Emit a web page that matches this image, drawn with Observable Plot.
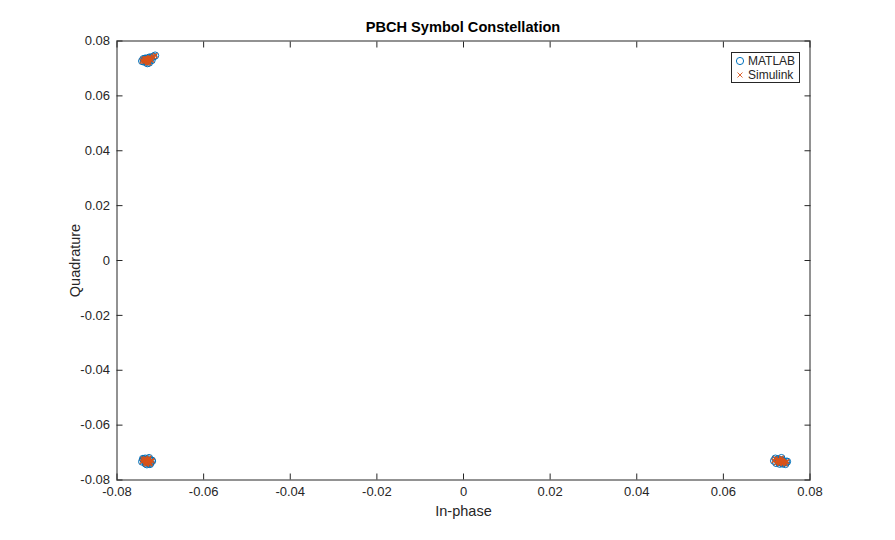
<!DOCTYPE html>
<html>
<head>
<meta charset="utf-8">
<script src="https://cdn.jsdelivr.net/npm/d3@7"></script>
<script src="https://cdn.jsdelivr.net/npm/@observablehq/plot@0.6"></script>
<style>
  body { margin: 0; background: #fff; }
  #wrap { position: relative; width: 895px; height: 540px; font-family: "Liberation Sans", Arial, Helvetica, sans-serif; color: #262626; }
  #title { position: absolute; top: 19px; left: 116px; width: 694px; text-align: center; font-weight: bold; font-size: 14.6px; color: #000; }
  #legend { position: absolute; left: 731px; top: 52px; width: 69px; height: 31px; background: #fff; border: 1px solid #262626; font-size: 12px; box-sizing: border-box; }
  #legend .row { position: absolute; left: 3px; height: 14px; line-height: 14px; display: flex; align-items: center; white-space: nowrap; }
  #legend svg { margin-right: 3px; }
</style>
</head>
<body>
<div id="wrap">
  <div id="chart"></div>
  <div id="title">PBCH Symbol Constellation</div>
  <div id="legend"></div>
</div>
<script>
// In-phase / quadrature values per cluster (same symbols for MATLAB and Simulink)
const inphaseA = [-0.0734, -0.0727, -0.0738, -0.0722, -0.0731, -0.0742, -0.0726, -0.0735, -0.0720, -0.0730, -0.0739, -0.0725, -0.0716, -0.0712, -0.0733, -0.0729, -0.0732, -0.0728, -0.0734, -0.0726, -0.0730, -0.0733, -0.0727, -0.0730];
const quadA    = [ 0.0729,  0.0734,  0.0725,  0.0739,  0.0731,  0.0727,  0.0721,  0.0736,  0.0730,  0.0719,  0.0734,  0.0740,  0.0743,  0.0747,  0.0726,  0.0736,  0.0731,  0.0728,  0.0733,  0.0730,  0.0727,  0.0735,  0.0734,  0.0730];
const inphaseB = [-0.0736, -0.0728, -0.0740, -0.0723, -0.0733, -0.0742, -0.0726, -0.0734, -0.0720, -0.0730, -0.0739, -0.0724, -0.0735, -0.0719, -0.0731, -0.0727, -0.0730, -0.0733, -0.0728, -0.0734, -0.0731, -0.0727, -0.0735, -0.0730];
const quadB    = [-0.0727, -0.0734, -0.0723, -0.0738, -0.0730, -0.0733, -0.0720, -0.0740, -0.0729, -0.0736, -0.0726, -0.0742, -0.0722, -0.0731, -0.0743, -0.0725, -0.0731, -0.0728, -0.0734, -0.0730, -0.0727, -0.0735, -0.0733, -0.0730];
const inphaseC = [ 0.0731,  0.0725,  0.0740,  0.0720,  0.0737,  0.0728,  0.0745,  0.0722,  0.0734,  0.0717,  0.0743,  0.0727,  0.0738,  0.0747,  0.0730,  0.0726,  0.0733,  0.0728,  0.0735,  0.0731,  0.0734,  0.0729,  0.0737,  0.0727];
const quadC    = [-0.0731, -0.0726, -0.0736, -0.0722, -0.0740, -0.0728, -0.0734, -0.0738, -0.0720, -0.0730, -0.0742, -0.0725, -0.0735, -0.0733, -0.0741, -0.0727, -0.0731, -0.0734, -0.0728, -0.0733, -0.0730, -0.0735, -0.0731, -0.0728];
const inphaseD = [ 0.0729,  0.0734,  0.0725,  0.0738,  0.0731,  0.0723,  0.0736,  0.0728,  0.0741,  0.0732];
const quadD    = [ 0.0732,  0.0726,  0.0735,  0.0729,  0.0738,  0.0730,  0.0724,  0.0736,  0.0731,  0.0727];
const tickValues = [-0.08, -0.06, -0.04, -0.02, 0, 0.02, 0.04, 0.06, 0.08];
const seriesNames = ["MATLAB", "Simulink"];
const seriesColors = ["#0072BD", "#D95319"];

const points = [];
[[inphaseA, quadA], [inphaseB, quadB], [inphaseC, quadC], [inphaseD, quadD]].forEach(([I, Q]) => {
  I.forEach((v, i) => points.push({ i: v, q: Q[i] }));
});

const fmt = d => (Math.abs(d) < 1e-12 ? "0" : d.toFixed(2));

const chart = Plot.plot({
  width: 895,
  height: 540,
  marginLeft: 116.5,
  marginRight: 85.5,
  marginTop: 40.5,
  marginBottom: 60.5,
  style: { fontFamily: "'Liberation Sans', Arial, Helvetica, sans-serif", fontSize: "13px", color: "#262626", background: "#fff" },
  x: { domain: [-0.08, 0.08] },
  y: { domain: [-0.08, 0.08] },
  marks: [
    Plot.dot(points, { x: "i", y: "q", symbol: "circle", r: 3.6, stroke: seriesColors[0], strokeWidth: 1, fill: "none" }),
    Plot.dot(points, { x: "i", y: "q", symbol: "times", r: 2.2, stroke: seriesColors[1], strokeWidth: 1.3 }),
    Plot.frame({ stroke: "#262626" }),
    Plot.axisX({ ticks: tickValues, tickFormat: fmt, tickSize: -6, tickPadding: 13, label: null, fontSize: 13 }),
    Plot.axisX({ anchor: "top", ticks: tickValues, tickFormat: () => "", tickSize: -6, label: null }),
    Plot.axisY({ ticks: tickValues, tickFormat: fmt, tickSize: -6, tickPadding: 13, label: null, fontSize: 13 }),
    Plot.axisY({ anchor: "right", ticks: tickValues, tickFormat: () => "", tickSize: -6, label: null }),
    Plot.text(["In-phase"], { frameAnchor: "bottom", dy: 36, text: d => d, fontSize: 14.5, fill: "#262626", lineAnchor: "bottom" }),
    Plot.text(["Quadrature"], { frameAnchor: "left", dx: -42, rotate: -90, textAnchor: "middle", text: d => d, fontSize: 14.5, fill: "#262626" })
  ]
});
document.getElementById("chart").appendChild(chart);

// Legend
const legend = document.getElementById("legend");
seriesNames.forEach((name, k) => {
  const row = document.createElement("div");
  row.className = "row";
  row.style.top = (1 + k * 13.5) + "px";
  const sym = k === 0
    ? `<svg width="10" height="10"><circle cx="5" cy="5" r="3.6" fill="none" stroke="${seriesColors[k]}" stroke-width="1"/></svg>`
    : `<svg width="10" height="10"><path d="M2.5,2.5L7.5,7.5M7.5,2.5L2.5,7.5" stroke="${seriesColors[k]}" stroke-width="0.9"/></svg>`;
  row.innerHTML = sym + `<span>${name}</span>`;
  legend.appendChild(row);
});
</script>
</body>
</html>
